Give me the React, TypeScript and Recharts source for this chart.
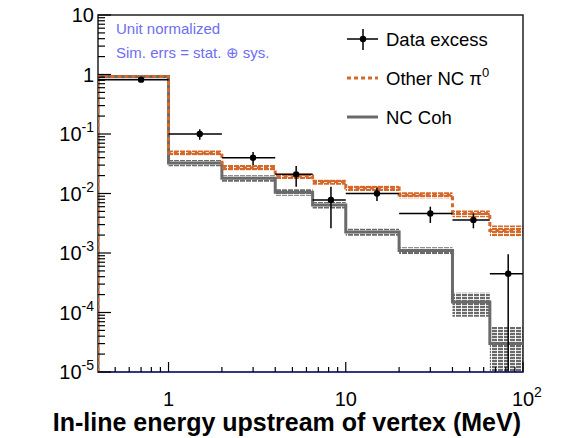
import React from "react";
import {
  ComposedChart,
  Line,
  Area,
  Scatter,
  XAxis,
  YAxis,
  ErrorBar,
  ReferenceArea,
} from "recharts";

// ---- data ----
const binEdges = [0.4, 1, 2, 4, 6.5, 10, 20, 40, 65, 100];
const otherNcPi0 = [0.93, 0.048, 0.027, 0.0197, 0.0158, 0.0124, 0.0094, 0.0046, 0.0024];
const otherNcPi0Err = [0.05, 0.005, 0.003, 0.0022, 0.0018, 0.0014, 0.0011, 0.0006, 0.0005];
const ncCoh = [0.92, 0.0326, 0.018, 0.0105, 0.0064, 0.00225, 0.0011, 0.00015, 0.00003];
const ncCohErr = [0.05, 0.004, 0.0022, 0.0013, 0.0008, 0.0003, 0.00015, 0.000065, 0.000027];
const dataX = [0.7, 1.5, 3, 5.25, 8.25, 15, 30, 52.5, 82.5];
const dataY = [0.82, 0.1, 0.04, 0.021, 0.0078, 0.01, 0.0046, 0.0036, 0.00045];
const dataYErr = [0.03, 0.02, 0.01, 0.008, 0.0052, 0.0025, 0.0014, 0.001, 0.0005];
const xMajorLabels = [
  { v: 1, base: "1", sup: "" },
  { v: 10, base: "10", sup: "" },
  { v: 100, base: "10", sup: "2" },
];
const yMajorLabels = [
  { v: 10, base: "10", sup: "" },
  { v: 1, base: "1", sup: "" },
  { v: 0.1, base: "10", sup: "-1" },
  { v: 0.01, base: "10", sup: "-2" },
  { v: 0.001, base: "10", sup: "-3" },
  { v: 0.0001, base: "10", sup: "-4" },
  { v: 0.00001, base: "10", sup: "-5" },
];
const legendLabels = ["Data excess", "Other NC \u03c0", "NC Coh"];
const noteLines = ["Unit normalized", "Sim. errs = stat. \u2295 sys."];
const xTitle = "In-line energy upstream of vertex (MeV)";

const X_MIN = 0.4;
const X_MAX = 100;
const Y_MIN = 1e-5;
const Y_MAX = 10;

const FONT = "'Liberation Sans', Arial, Helvetica, sans-serif";
const ORANGE = "#d4692a";
const GRAY = "#6a6a6a";
const NOTE = "#6e6ef0";

// histogram step data built from bin edges
const histData = [
  {
    x: binEdges[0],
    other: Y_MIN,
    coh: Y_MIN,
    otherBand: [otherNcPi0[0] - otherNcPi0Err[0], otherNcPi0[0] + otherNcPi0Err[0]],
    cohBand: [ncCoh[0] - ncCohErr[0], ncCoh[0] + ncCohErr[0]],
  },
  ...binEdges.map((e, i) => {
    const k = Math.min(i, otherNcPi0.length - 1);
    return {
      x: e,
      other: otherNcPi0[k],
      coh: ncCoh[k],
      otherBand: [otherNcPi0[k] - otherNcPi0Err[k], otherNcPi0[k] + otherNcPi0Err[k]],
      cohBand: [Math.max(ncCoh[k] - ncCohErr[k], 1e-7), ncCoh[k] + ncCohErr[k]],
    };
  }),
];

const points = dataX.map((x, i) => ({
  x,
  y: dataY[i],
  xErr: [x - binEdges[i], binEdges[i + 1] - x],
  yErr: [Math.min(dataYErr[i], dataY[i] - Y_MIN), dataYErr[i]],
}));

// ticks
const yTicks: number[] = [];
for (let n = -5; n <= 1; n++) {
  yTicks.push(Math.pow(10, n));
  if (n < 1) for (let k = 2; k <= 9; k++) yTicks.push(k * Math.pow(10, n));
}
const xTicks: number[] = [0.5, 0.6, 0.7, 0.8, 0.9];
for (let n = 0; n <= 2; n++) {
  xTicks.push(Math.pow(10, n));
  if (n < 2) for (let k = 2; k <= 9; k++) xTicks.push(k * Math.pow(10, n));
}

const isMajor = (v: number) => {
  const l = Math.log10(v);
  return Math.abs(l - Math.round(l)) < 1e-9;
};

const YTick = (props: any) => {
  const { x, y, payload } = props;
  const v = payload.value;
  const major = isMajor(v);
  const lab = yMajorLabels.find((m) => Math.abs(Math.log10(m.v) - Math.log10(v)) < 1e-9);
  return (
    <g>
      <line x1={x} x2={x + (major ? 13 : 7)} y1={y} y2={y} stroke="#000" strokeWidth={1.2} />
      {major && lab && (
        <text
          x={x - 4}
          y={y + 7}
          textAnchor="end"
          fontFamily={FONT}
          fontSize={20}
          fill="#000"
        >
          {lab.base}
          {lab.sup && (
            <tspan dy={-9} fontSize={14}>
              {lab.sup}
            </tspan>
          )}
        </text>
      )}
    </g>
  );
};

const XTick = (props: any) => {
  const { x, y, payload } = props;
  const v = payload.value;
  const major = isMajor(v);
  const lab = xMajorLabels.find((m) => Math.abs(Math.log10(m.v) - Math.log10(v)) < 1e-9);
  return (
    <g>
      <line x1={x} x2={x} y1={y} y2={y - (major ? 10 : 5)} stroke="#000" strokeWidth={1.2} />
      {major && lab && (
        <text x={x} y={y + 34} textAnchor="middle" fontFamily={FONT} fontSize={20} fill="#000">
          {lab.base}
        </text>
      )}
      {major && lab && lab.sup && (
        <text x={x + 11} y={y + 25} textAnchor="start" fontFamily={FONT} fontSize={14} fill="#000">
          {lab.sup}
        </text>
      )}
    </g>
  );
};

const XTitle = () => (
  <text
    x={521}
    y={431}
    textAnchor="end"
    fontFamily={FONT}
    fontWeight="bold"
    fontSize={25}
    fill="#000"
  >
    {xTitle}
  </text>
);

const Dot = (p: any) => <circle cx={p.cx} cy={p.cy} r={3.2} fill="#000" />;

export default function App() {
  return (
    <div style={{ position: "absolute", left: 0, top: 0, width: 564, height: 438, background: "#fff" }}>
      <ComposedChart
        width={564}
        height={438}
        margin={{ top: 15, right: 41, left: 0, bottom: 0 }}
        data={histData}
      >
        <defs>
          <pattern id="grayHatch" width="6" height="3" patternUnits="userSpaceOnUse">
            <rect x="0" y="0" width="5" height="2.2" fill={GRAY} />
          </pattern>
          <pattern id="orangeHatch" width="6" height="3" patternUnits="userSpaceOnUse">
            <rect x="0" y="0" width="5" height="2.2" fill={ORANGE} />
          </pattern>
        </defs>
        <XAxis
          dataKey="x"
          type="number"
          scale="log"
          domain={[X_MIN, X_MAX]}
          allowDataOverflow
          ticks={xTicks}
          interval={0}
          tick={<XTick />}
          tickLine={false}
          tickSize={0}
          tickMargin={0}
          height={66}
          axisLine={{ stroke: "#2a2a90", strokeWidth: 1.5 }}
          label={<XTitle />}
        />
        <YAxis
          type="number"
          scale="log"
          domain={[Y_MIN, Y_MAX]}
          allowDataOverflow
          ticks={yTicks}
          interval={0}
          tick={<YTick />}
          tickLine={false}
          tickSize={0}
          tickMargin={0}
          width={98}
          axisLine={false}
        />
        <Area
          dataKey="cohBand"
          type="stepAfter"
          stroke="none"
          fill="url(#grayHatch)"
          fillOpacity={1}
          isAnimationActive={false}
          dot={false}
          activeDot={false}
        />
        <Line
          dataKey="coh"
          type="stepAfter"
          stroke={GRAY}
          strokeWidth={3}
          dot={false}
          activeDot={false}
          isAnimationActive={false}
        />
        <Area
          dataKey="otherBand"
          type="stepAfter"
          stroke="none"
          fill="url(#orangeHatch)"
          fillOpacity={1}
          isAnimationActive={false}
          dot={false}
          activeDot={false}
        />
        <Line
          dataKey="other"
          type="stepAfter"
          stroke={ORANGE}
          strokeWidth={3}
          strokeDasharray="4 3"
          dot={false}
          activeDot={false}
          isAnimationActive={false}
        />
        <Scatter data={points} dataKey="y" shape={<Dot />} isAnimationActive={false}>
          <ErrorBar dataKey="xErr" direction="x" width={0} stroke="#000" strokeWidth={1.5} isAnimationActive={false} />
          <ErrorBar dataKey="yErr" direction="y" width={0} stroke="#000" strokeWidth={1.5} isAnimationActive={false} />
        </Scatter>
        <ReferenceArea
          x1={X_MIN}
          x2={X_MAX}
          y1={Y_MIN}
          y2={Y_MAX}
          fill="none"
          stroke="#222"
          strokeWidth={1.5}
          ifOverflow="visible"
        />
        <g>
          <text x={116} y={34} fontFamily={FONT} fontSize={15} fill={NOTE}>
            {noteLines[0]}
          </text>
          <text x={116} y={58} fontFamily={FONT} fontSize={15} fill={NOTE}>
            {noteLines[1]}
          </text>
          <line x1={347} x2={378} y1={39} y2={39} stroke="#000" strokeWidth={1.5} />
          <line x1={363} x2={363} y1={29} y2={50} stroke="#000" strokeWidth={1.5} />
          <circle cx={363} cy={39} r={3.2} fill="#000" />
          <text x={386} y={46} fontFamily={FONT} fontSize={18.5} fill="#000">
            {legendLabels[0]}
          </text>
          <line x1={347} x2={378} y1={78} y2={78} stroke={ORANGE} strokeWidth={3} strokeDasharray="4 3" />
          <text x={386} y={85} fontFamily={FONT} fontSize={18.5} fill="#000">
            {legendLabels[1]}
            <tspan dy={-8} fontSize={13}>0</tspan>
          </text>
          <line x1={347} x2={378} y1={117} y2={117} stroke={GRAY} strokeWidth={3} />
          <text x={386} y={124} fontFamily={FONT} fontSize={18.5} fill="#000">
            {legendLabels[2]}
          </text>
        </g>
      </ComposedChart>
    </div>
  );
}
